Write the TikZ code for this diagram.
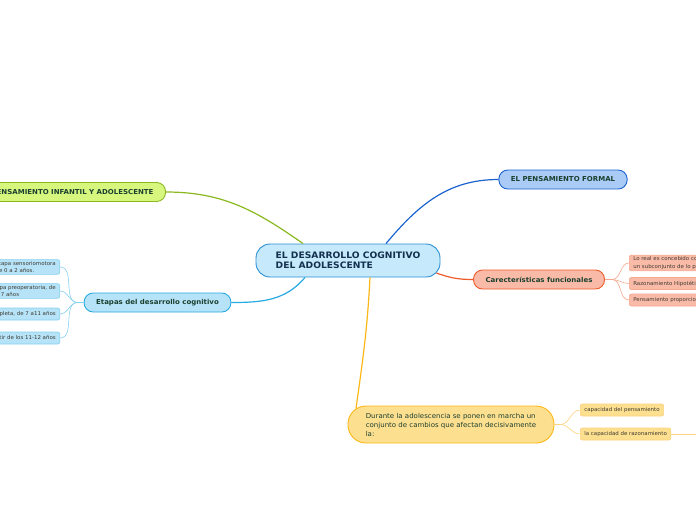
\documentclass[tikz,border=0pt]{standalone}
\usepackage{fontspec}
\setmainfont{DejaVu Sans}[FakeStretch=1.03]
\definecolor{rootfill}{HTML}{C6E9FB}
\definecolor{rootline}{HTML}{2B8FD3}
\definecolor{roottext}{HTML}{14304F}
\definecolor{greenfill}{HTML}{D6F67E}
\definecolor{greenline}{HTML}{8AB81E}
\definecolor{bluefill}{HTML}{A9CBF6}
\definecolor{blueline}{HTML}{1C63D0}
\definecolor{orangefill}{HTML}{F9BBA7}
\definecolor{orangeline}{HTML}{EE5A2A}
\definecolor{orangesub}{HTML}{F6A88E}
\definecolor{cyanfill}{HTML}{B6E3F8}
\definecolor{cyanline}{HTML}{27A9E1}
\definecolor{cyansub}{HTML}{86D0F1}
\definecolor{yellowfill}{HTML}{FDDF90}
\definecolor{yellowline}{HTML}{FBB716}
\definecolor{yellowsub}{HTML}{FCD27E}
\definecolor{textdark}{HTML}{1B4030}
\definecolor{textsub}{HTML}{3E3A30}
\tikzset{
  root/.style={draw=rootline, fill=rootfill, rounded corners=14pt, line width=0.9pt,
    font=\fontsize{8.9}{10.5}\selectfont\bfseries, text=roottext, align=left,
    minimum width=184pt, minimum height=33pt, inner sep=0pt},
  topic/.style={draw, rounded corners=9pt, line width=0.9pt,
    font=\fontsize{6.8}{8}\selectfont\bfseries, text=textdark,
    minimum height=19pt, inner xsep=12pt, inner ysep=0pt},
  subtopic/.style={draw, rounded corners=2pt, line width=0.6pt, align=left,
    font=\fontsize{5.3}{7.6}\selectfont, text=textsub,
    minimum height=12pt, inner xsep=4pt, inner ysep=1.5pt},
  branch/.style={line width=1.2pt},
  twig/.style={line width=0.6pt},
}
\begin{document}
\begin{tikzpicture}[x=1pt,y=1pt]
    \useasboundingbox (0,0) rectangle (696,-520);
    \clip (0,0) rectangle (696,-520);
    % central idea
    \node[root] (central) at (348,-260.5)
        {EL DESARROLLO COGNITIVO\\DEL ADOLESCENTE};
    % main topics
    \node[topic, draw=greenline, fill=greenfill, anchor=east] (infantil) at (166,-192)
        {EL PENSAMIENTO INFANTIL Y ADOLESCENTE};
    \node[topic, draw=blueline, fill=bluefill, minimum width=128pt] (formal) at (563,-179.5)
        {EL PENSAMIENTO FORMAL};
    \node[topic, draw=orangeline, fill=orangefill, minimum width=130pt] (funcional) at (539,-279.5)
        {Carecter\'isticas funcionales};
    \node[topic, draw=cyanline, fill=cyanfill, minimum width=145pt] (etapas) at (157.5,-302.5)
        {Etapas del desarrollo cognitivo};
    \node[topic, draw=yellowline, fill=yellowfill, rounded corners=18pt, align=left,
          font=\fontsize{6.8}{9}\selectfont, minimum width=206pt, minimum height=37pt] (durante) at (451,-424.5)
        {Durante la adolescencia se ponen en marcha un\\conjunto de cambios que afectan decisivamente\\la:};
    % branches from the centre
    \draw[branch, greenline] ([xshift=-45pt]central.north) to[out=145, in=0] (infantil.east);
    \draw[branch, blueline] ([xshift=38pt]central.north) to[out=50, in=180] (formal.west);
    \draw[branch, orangeline] ([xshift=-4pt,yshift=-12.5pt]central.east) to[out=-20, in=180] (funcional.west);
    \draw[branch, cyanline] ([xshift=-43pt]central.south) to[out=-130, in=0] (etapas.east);
    \draw[branch, yellowline] ([xshift=22pt]central.south) to[out=-93, in=82] ([xshift=-95pt,yshift=-3pt]durante.north);
    % stages
    \node[subtopic, draw=cyansub, fill=cyanfill, anchor=east] (sensorio) at (60,-267)
        {Etapa sensoriomotora\\de 0 a 2 a\~nos.};
    \node[subtopic, draw=cyansub, fill=cyanfill, anchor=east] (preop) at (60,-291)
        {Etapa preoperatoria, de\\2 a 7 a\~nos};
    \node[subtopic, draw=cyansub, fill=cyanfill, anchor=east] (completa) at (60,-314)
        {Etapa operacional completa, de 7 a11 a\~nos};
    \node[subtopic, draw=cyansub, fill=cyanfill, anchor=east] (formales) at (60,-338)
        {Etapa de operaciones formales, a partir de los 11-12 a\~nos};
    \coordinate (etapasfan) at ([xshift=-6pt]etapas.west);
    \draw[twig, cyansub] (etapas.west) -- (etapasfan);
    \foreach \n in {sensorio, preop, completa, formales}
        \draw[twig, cyansub] (etapasfan) to[out=180, in=0] (\n.east);
    % functional features
    \node[subtopic, draw=orangesub, fill=orangefill, anchor=west] (real) at (629,-263)
        {Lo real es concebido como\\un subconjunto de lo posible};
    \node[subtopic, draw=orangesub, fill=orangefill, anchor=west] (hipotetico) at (629,-283.5)
        {Razonamiento Hipot\'etico-deductivo};
    \node[subtopic, draw=orangesub, fill=orangefill, anchor=west] (proporcion) at (629,-300)
        {Pensamiento proporcional};
    \coordinate (funcfan) at ([xshift=7pt]funcional.east);
    \draw[twig, orangesub] (funcional.east) -- (funcfan);
    \foreach \n in {real, hipotetico, proporcion}
        \draw[twig, orangesub] (funcfan) to[out=0, in=180] (\n.west);
    % capacities
    \node[subtopic, draw=yellowsub, fill=yellowfill, anchor=west] (pensamiento) at (580,-410)
        {capacidad del pensamiento};
    \node[subtopic, draw=yellowsub, fill=yellowfill, anchor=west] (razonamiento) at (580,-434)
        {la capacidad de razonamiento};
    \coordinate (durantefan) at ([xshift=6pt]durante.east);
    \draw[twig, yellowsub] (durante.east) -- (durantefan);
    \foreach \n in {pensamiento, razonamiento}
        \draw[twig, yellowsub] (durantefan) to[out=0, in=180] (\n.west);
    \coordinate (beyond) at (720,-434);
    \draw[twig, yellowsub] (razonamiento.east) -- (beyond);
\end{tikzpicture}
\end{document}
